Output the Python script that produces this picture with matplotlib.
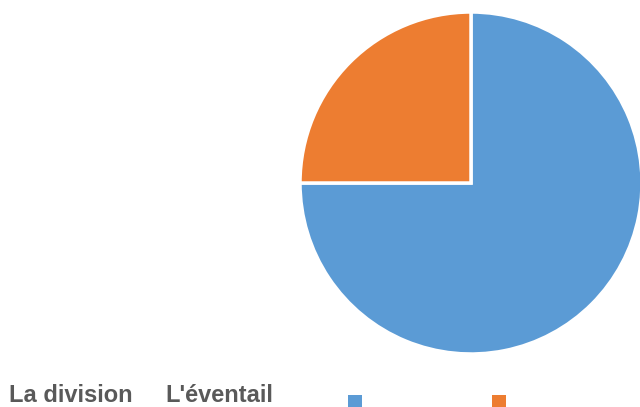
import matplotlib
matplotlib.use("Agg")
import matplotlib.pyplot as plt
from matplotlib.patches import Rectangle

# data
labels = ["La division", "L'éventail"]
shares = [75, 25]
colors = ["#5B9BD5", "#ED7D31"]

fig = plt.figure(figsize=(6.4, 4.07), dpi=100)
ax = fig.add_axes([0, 0, 1, 1])

ax.pie(shares, colors=colors, startangle=90, counterclock=False,
       center=(471, 224), radius=171, frame=True,
       wedgeprops=dict(edgecolor="white", linewidth=2.5))
ax.set_xlim(0, 640)
ax.set_ylim(0, 407)
ax.set_aspect("equal")
ax.axis("off")

# category texts along the bottom
for x, lab in zip([9, 165], labels):
    ax.text(x, 5, lab, fontsize=17, fontweight="bold", color="#595959",
            family="Liberation Sans", va="baseline", ha="left")

# legend keys
for x, c in zip([348, 492], colors):
    ax.add_patch(Rectangle((x, -2), 14, 14, facecolor=c, edgecolor="none",
                           clip_on=False))

fig.savefig("out.png", dpi=100)
